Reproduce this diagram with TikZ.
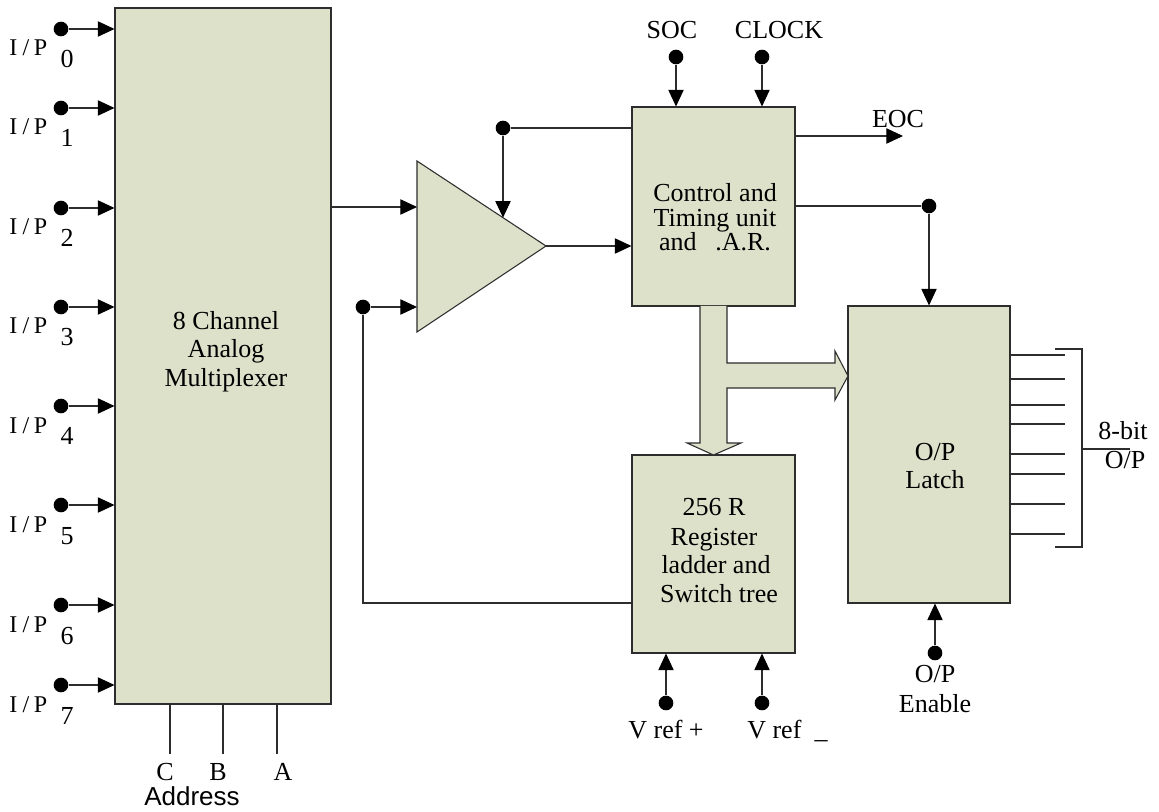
\documentclass[tikz,border=0pt]{standalone}
\usepackage{fontspec}
\setmainfont{Liberation Serif}
\newfontfamily\addrfont{Liberation Sans}
\usetikzlibrary{arrows.meta}
\definecolor{boxfill}{RGB}{221,225,202}
\definecolor{ln}{RGB}{45,45,45}
\begin{document}
\begin{tikzpicture}[x=0.75pt,y=-0.75pt,
  box/.style={draw=ln, fill=boxfill, line width=0.8pt, inner sep=0pt, rectangle},
  dot/.style={circle, fill=black, inner sep=0pt, minimum size=11pt},
  arr/.style={draw=ln, line width=0.8pt, -{Triangle[length=12.5pt,width=11.5pt,fill=black,color=black]}},
  wire/.style={draw=ln, line width=0.8pt},
  txt/.style={inner sep=0pt, anchor=base, font=\fontsize{19.5}{19.5}\selectfont},
  small/.style={inner sep=0pt, anchor=base west, font=\fontsize{18}{18}\selectfont},
]
\useasboundingbox (0,0) rectangle (1159,812);

% boxes
\node[box, minimum width=162pt, minimum height=522pt] (mux) at (223,356) {};
\node[box, minimum width=122.25pt, minimum height=149.25pt] (ctrl) at (713.5,206.5) {};
\node[box, minimum width=122.25pt, minimum height=148.5pt] (reg) at (713.5,554) {};
\node[box, minimum width=121.5pt, minimum height=222.75pt] (latch) at (929,454.5) {};

% amplifier
\draw[wire, fill=boxfill] (417,161) coordinate (tA) -- (546,246) coordinate (tC) -- (417,332) coordinate (tB) -- cycle;

% box texts
\node[txt] (m1) at (226,330) {8 Channel};
\node[txt] (m2) at (226,358) {Analog};
\node[txt] (m3) at (226,387) {Multiplexer};
\node[txt] (c1) at (715,202) {Control and};
\node[txt] (c2) at (715,227) {Timing unit};
\node[txt] (c3) at (715,251) {and\hspace{14pt}.A.R.};
\node[txt] (r1) at (714,515) {256 R};
\node[txt] (r2) at (714,545) {Register};
\node[txt] (r3) at (716,573) {ladder and};
\node[txt] (r4) at (719,602) {Switch tree};
\node[txt] (l1) at (935,460) {O/P};
\node[txt] (l2) at (935,488) {Latch};

% inputs
\foreach \i/\y in {0/29,1/108,2/208,3/307,4/406,5/505,6/605,7/685} {
  \node[dot] (ip\i) at (61,\y) {};
  \draw[arr] (ip\i) -- (ip\i -| mux.west);
  \node[small] (ipl\i) at (9,\y+27) {I\hspace{4pt}/\hspace{3.5pt}P};
  \node[txt] (ips\i) at (67,\y+39) {\i};
}

% address lines
\foreach \n/\x/\lx in {C/170/165,B/223/218,A/277/283} {
  \coordinate (a\n) at (\x,754);
  \draw[wire] (mux.south -| a\n) -- (a\n);
  \node[txt] (al\n) at (\lx,780) {\n};
}
\node[txt, font=\addrfont\fontsize{19.5}{19.5}\selectfont] (addr) at (192,805) {Address};

% amplifier connections
\coordinate (in1) at (417,207);
\draw[arr] (mux.east |- in1) -- (in1);
\node[dot] (dac) at (363,307) {};
\coordinate (in2) at (417,307);
\draw[arr] (dac) -- (in2);
\coordinate (fbk) at (632,603);
\draw[wire] (dac) |- (fbk);
\node[dot] (fb) at (503,128) {};
\draw[wire] (fb) -- (fb -| ctrl.west);
\coordinate (tin) at (503,217.7);
\draw[arr] (fb) -- (tin);
\draw[arr] (tC) -- (tC -| ctrl.west);

% control inputs / outputs
\node[dot] (soc) at (676,57) {};
\draw[arr] (soc) -- (soc |- ctrl.north);
\node[dot] (clk) at (762,57) {};
\draw[arr] (clk) -- (clk |- ctrl.north);
\node[txt] (socl) at (672,39) {SOC};
\node[txt] (clkl) at (779,39) {CLOCK};
\coordinate (eoc) at (903,136);
\draw[arr] (ctrl.east |- eoc) -- (eoc);
\node[txt] (eocl) at (898,128) {EOC};
\node[dot] (ld) at (929,206) {};
\draw[wire] (ctrl.east |- ld) -- (ld);
\draw[arr] (ld) -- (latch.north);

% fat arrows
\draw[draw=ln, fill=boxfill, line width=0.8pt]
  (700,306) -- (700,443) -- (687,443) -- (713.5,455) -- (741,443) -- (727,443)
  -- (727,388) -- (835,388) -- (835,400) -- (848,376) -- (835,351) -- (835,363)
  -- (727,363) -- (727,306);

% references
\node[dot] (vp) at (666,703) {};
\draw[arr] (vp) -- (vp |- reg.south);
\node[dot] (vm) at (762,703) {};
\draw[arr] (vm) -- (vm |- reg.south);
\node[txt] (vpl) at (666,738) {V ref +};
\node[txt, anchor=base west] (vml) at (747,738) {V ref\hspace{10pt}\_};

% enable
\node[dot] (en) at (935,653) {};
\draw[arr] (en) -- (en |- latch.south);
\node[txt] (en1) at (935,682) {O/P};
\node[txt] (en2) at (935,712) {Enable};

% output bus
\foreach \y in {355,379,405,424,454,474,504,534} {
  \coordinate (o\y) at (1065,\y);
  \draw[wire] (latch.east |- o\y) -- (o\y);
}
\coordinate (bt) at (1082,349);
\coordinate (bb) at (1082,547);
\coordinate (bm) at (1082,449);
\coordinate (bo) at (1130,449);
\draw[wire] (1055,349) -- (bt) -- (bb) -- (1055,547);
\draw[wire] (bm) -- (bo);
\node[txt] (ob1) at (1123,439) {8-bit};
\node[txt] (ob2) at (1125,468) {O/P};
\end{tikzpicture}
\end{document}
